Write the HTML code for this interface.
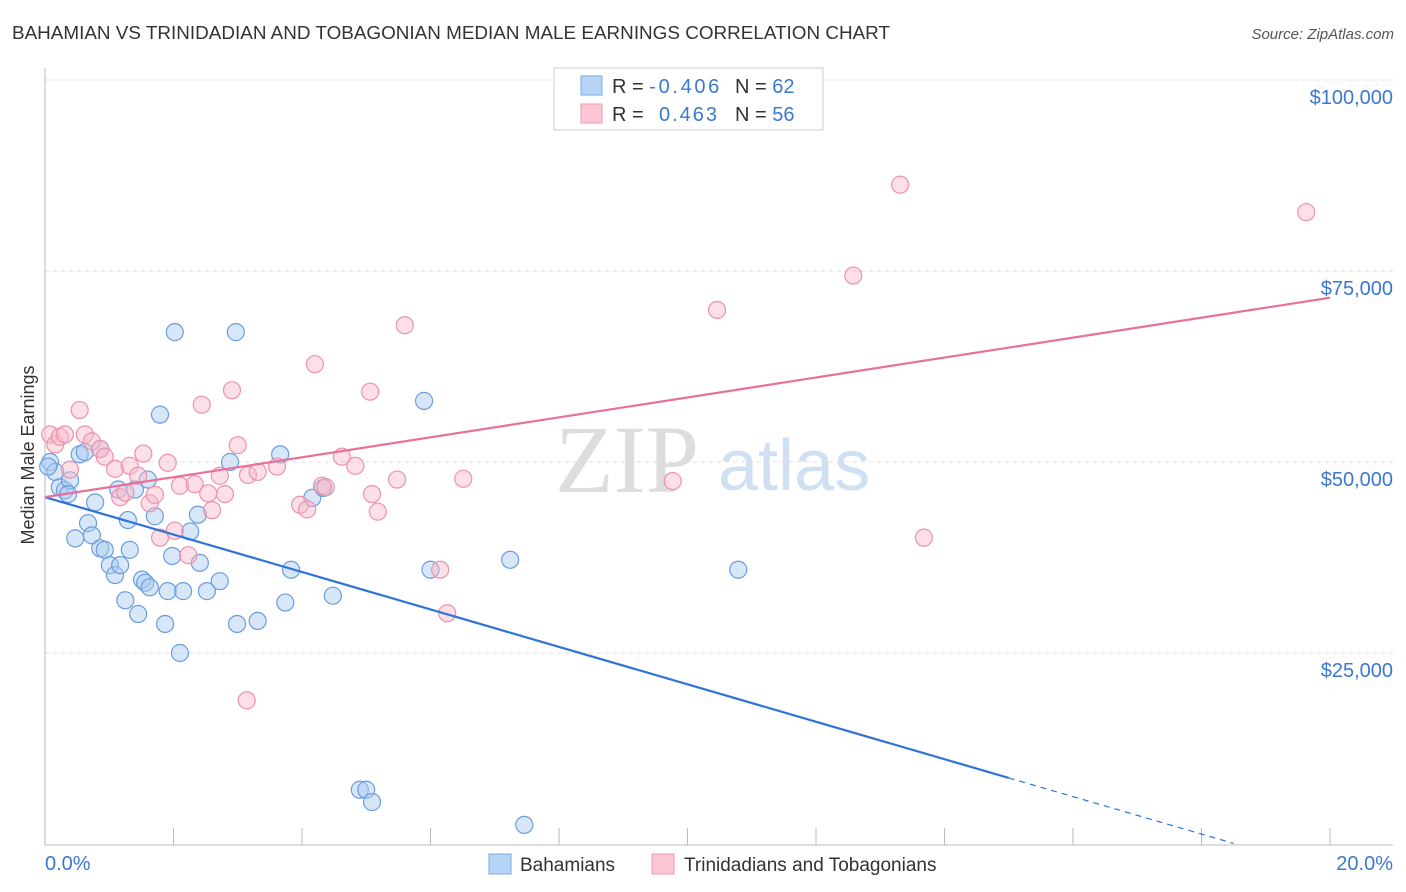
<!DOCTYPE html>
<html><head><meta charset="utf-8"><style>
body{margin:0;background:#fff;font-family:"Liberation Sans",sans-serif;}
svg{display:block}
</style></head><body>
<svg id="c" width="1406" height="892">
<text x="12" y="39" font-size="18" fill="#333" textLength="878" lengthAdjust="spacingAndGlyphs">BAHAMIAN VS TRINIDADIAN AND TOBAGONIAN MEDIAN MALE EARNINGS CORRELATION CHART</text>
<text x="1394" y="39" font-size="15" fill="#555" font-style="italic" text-anchor="end">Source: ZipAtlas.com</text>
<text x="34" y="455" font-size="18" fill="#333" transform="rotate(-90 34 455)" text-anchor="middle">Median Male Earnings</text>
<text x="555" y="492" font-size="96" fill="#ddd" font-family="Liberation Serif,serif">ZIP</text>
<text x="718" y="490" font-size="72" fill="#cfe0f3">atlas</text>
<g id="grid"></g><g id="marks"></g>
<g>
<rect x="554" y="68" width="269" height="62" fill="#fff" stroke="#ccc"/>
<rect x="581" y="76" width="21" height="19" fill="#b6d4f5" stroke="#7aa8e0"/>
<rect x="581" y="104" width="21" height="19" fill="#fcc6d4" stroke="#ee9ab0"/>
<text x="612" y="93" font-size="20" fill="#333">R = <tspan fill="#3b78d0" textLength="70">-0.406</tspan><tspan x="735">N = </tspan><tspan fill="#3b78d0">62</tspan></text>
<text x="612" y="121" font-size="20" fill="#333">R = <tspan x="659" fill="#3b78d0" textLength="58">0.463</tspan><tspan x="735">N = </tspan><tspan fill="#3b78d0">56</tspan></text>
</g>
<g>
<rect x="489" y="854" width="22" height="20" fill="#b6d4f5" stroke="#7aa8e0"/>
<text x="520" y="871" font-size="19" fill="#333">Bahamians</text>
<rect x="652" y="854" width="22" height="20" fill="#fcc6d4" stroke="#ee9ab0"/>
<text x="684" y="871" font-size="19" fill="#333">Trinidadians and Tobagonians</text>
</g>
</svg>
<script>
const yTicks=[25000,50000,75000,100000];
const yTickLabels=["$25,000","$50,000","$75,000","$100,000"];
const xTickLabels=["0.0%","20.0%"];
const blueX=[0.08,0.16,0.23,0.31,0.39,0.36,0.54,0.62,0.86,0.78,0.67,0.73,0.47,0.86,0.93,1.01,1.09,1.17,1.25,1.29,1.32,1.40,1.45,1.51,1.56,1.63,1.60,1.71,1.79,1.87,1.91,1.98,2.02,2.10,2.15,2.26,2.38,2.41,2.52,2.72,2.88,2.97,2.99,3.31,3.66,3.74,3.83,4.16,4.33,4.48,4.90,5.00,5.09,5.90,6.00,7.24,7.46,10.79,1.14,0.05];
const blueY=[50000,48700,46700,46300,47600,45800,51000,51300,51700,44700,42000,40400,40000,38700,38500,36500,35200,36500,31900,42400,38500,46400,30100,34600,34200,33600,47700,42900,56200,28800,33100,37700,67000,25000,33100,40900,43100,36800,33100,34400,50000,67000,28800,29200,51000,31600,35900,45300,46600,32500,7100,7100,5500,58000,35900,37200,2500,35900,46400,49400];
const pinkX=[0.08,0.16,0.23,0.31,0.39,0.54,0.62,0.73,0.86,0.93,1.09,1.17,1.25,1.32,1.45,1.53,1.63,1.71,1.79,1.91,2.02,2.10,2.23,2.33,2.44,2.54,2.60,2.72,2.80,2.91,3.00,3.16,3.14,3.31,3.61,3.97,4.08,4.20,4.31,4.37,4.62,4.83,5.06,5.09,5.18,5.48,5.60,6.15,6.26,6.51,9.77,10.46,12.58,13.31,13.68,19.63];
const pinkY=[53600,52300,53300,53600,49000,56800,53600,52700,51700,50700,49100,45400,46000,49500,48200,51100,44600,45700,40100,49900,41000,46900,37800,47100,57500,45900,43700,48200,45800,59400,52200,48300,18800,48700,49400,44400,43800,62800,46900,46700,50700,49500,59200,45800,43500,47700,67900,35900,30200,47800,47500,69900,74400,86300,40100,82700];
const svg=document.getElementById('c'),NS='http://www.w3.org/2000/svg';
const X=v=>45+v/20*1285, Y=v=>844-v/25000*191;
function el(t,a,p){const e=document.createElementNS(NS,t);for(const k in a)e.setAttribute(k,a[k]);(p||svg).appendChild(e);return e;}
const grid=document.getElementById('grid'),marks=document.getElementById('marks');
yTicks.forEach((t,i)=>{
const g=el('line',{x1:45,x2:1393,y1:Y(t),y2:Y(t),stroke:'#ddd','stroke-dasharray':'4,4'},grid);


const l=el('text',{x:1393,y:Y(t)+24,'font-size':20,fill:'#3b78d0','text-anchor':'end'},grid);l.textContent=yTickLabels[i];


});
el('line',{x1:45,x2:45,y1:68,y2:845,stroke:'#bbb'},grid);
el('line',{x1:45,x2:1393,y1:845,y2:845,stroke:'#bbb'},grid);
for(let i=0;i<=10;i++){const t=el('line',{x1:X(i*2),x2:X(i*2),y1:828,y2:845,stroke:'#bbb'},grid);

}
[[0,'start',45],[20,'end',1393]].forEach((d,i)=>{const l=el('text',{x:d[2],y:870,'font-size':20,fill:'#3b78d0','text-anchor':d[1]},grid);l.textContent=xTickLabels[i];

});
function pts(xs,ys,fill,stroke,name){xs.forEach((x,i)=>{const c=el('circle',{cx:X(x),cy:Y(ys[i]),r:8.5,fill:fill,'fill-opacity':0.45,stroke:stroke,'stroke-width':1.2},marks);

});}
pts(blueX,blueY,'#a9c9f0','#6a9de0','bahamian-point');
pts(pinkX,pinkY,'#f8b8ca','#ec92ab','trinidadian-point');
const bl=x=>45400-2450*x, pl=x=>45400+1305*x;
let t=el('line',{x1:X(0),y1:Y(bl(0)),x2:X(15),y2:Y(bl(15)),stroke:'#2f74d6','stroke-width':2.2},marks);


t=el('line',{x1:X(15),y1:Y(bl(15)),x2:X(18.5),y2:Y(bl(18.5)),stroke:'#2f74d6','stroke-width':1.2,'stroke-dasharray':'6,5'},marks);


t=el('line',{x1:X(0),y1:Y(pl(0)),x2:X(20),y2:Y(pl(20)),stroke:'#e8709a','stroke-width':2.2},marks);


</script>
</body></html>
